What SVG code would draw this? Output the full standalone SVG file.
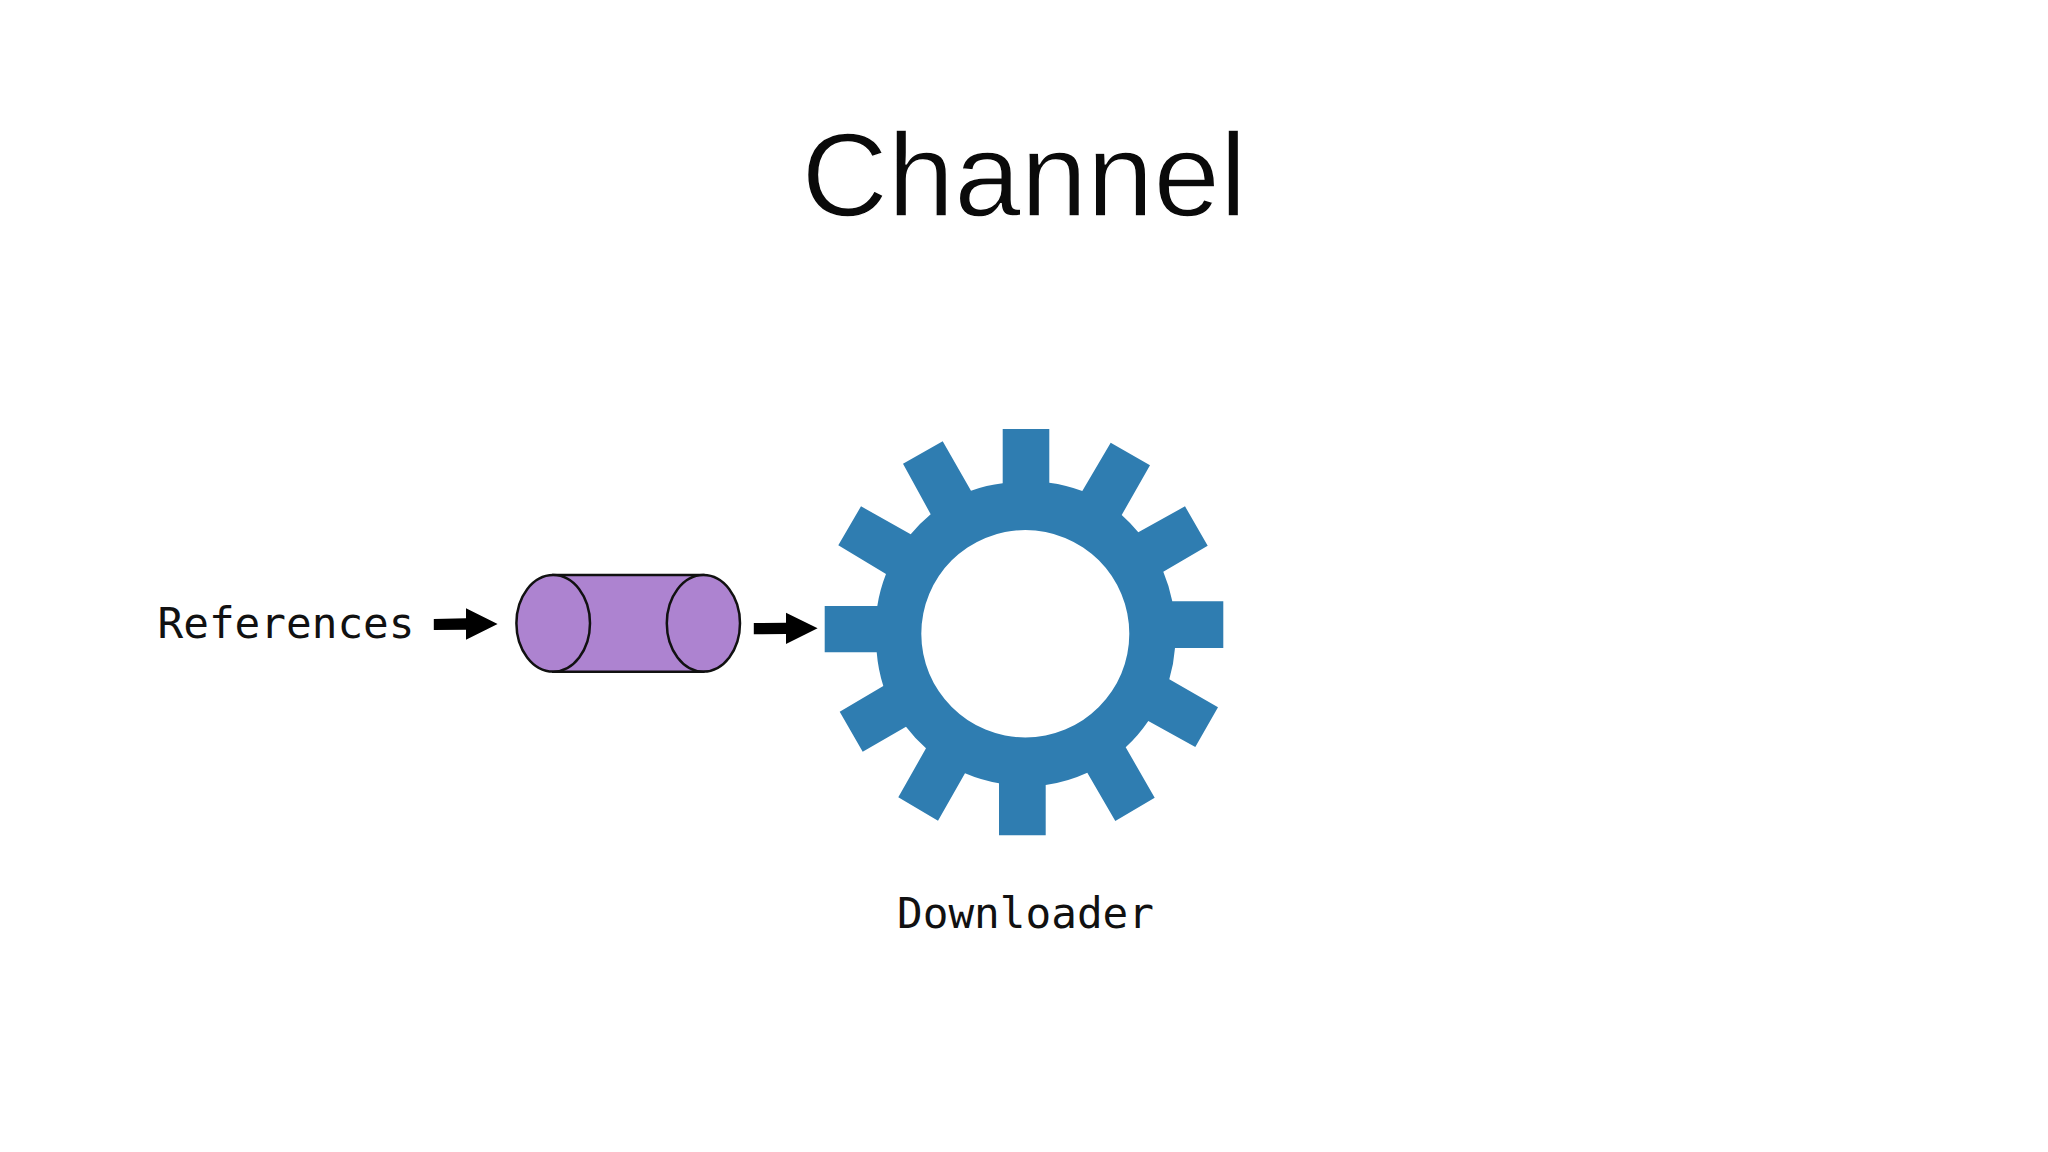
<svg xmlns="http://www.w3.org/2000/svg" width="2048" height="1152" viewBox="0 0 2048 1152">
<style>
.mono{font-family:"DejaVu Sans Mono","Liberation Mono",monospace;font-size:42.7px;fill:#111}
.title{font-family:"Liberation Sans",Arial,sans-serif;font-size:119.5px;fill:#0a0a0a;stroke:#fff;stroke-width:1.4px}
.tank{fill:#ad83d0;stroke:#111;stroke-width:2.5}
.arrow{fill:#000}
</style>
<rect width="2048" height="1152" fill="#fff"/>
<text id="title" class="title" x="1024" y="215.5" text-anchor="middle">Channel</text>
<g id="references"><text class="mono" x="157.5" y="638">References</text></g>
<g id="channel">
<path class="tank" d="M553.2 575H703.4V671.7H553.2Z"/>
<ellipse class="tank" cx="553.2" cy="623.3" rx="36.8" ry="48.3"/>
<ellipse class="tank" cx="703.4" cy="623.3" rx="36.6" ry="48.3"/>
</g>
<g id="downloader">
<path fill="#2f7db1" fill-rule="evenodd" d="M1002.7 483.3V429H1049.3V482.7A151 151 0 0 1 1082.3 491L1110.7 442.7L1150 465.3L1121.7 515A151 151 0 0 1 1138.3 532.3L1185 506.3L1207.7 545.7L1163.3 571.7A151 151 0 0 1 1172.3 601.3H1223.3V648H1175A151 151 0 0 1 1169.3 679.3L1218 707.3L1195.3 747L1148.3 721A151 151 0 0 1 1125.7 747.3L1154.7 797.7L1115.3 821L1087.3 772.7A151 151 0 0 1 1045.7 785V835.3H999V783.3A151 151 0 0 1 965 773.3L938 820.7L898.3 797.3L926 748.3A151 151 0 0 1 906 726.7L862.7 751.7L839.7 711.7L883.3 686A151 151 0 0 1 876.7 652.3H824.7V606H877.3A151 151 0 0 1 886 574L838.3 545.3L861 506.3L910.7 534.3A151 151 0 0 1 930.7 514.3L903 463.7L942.7 441.3L971 490.7A151 151 0 0 1 1002.7 483.3ZM1129.3 633.7A104 103.7 0 1 0 921.3 633.7A104 103.7 0 1 0 1129.3 633.7Z"/>
<text class="mono" x="897" y="928">Downloader</text>
</g>
<g id="connectors">
<path class="arrow" d="M433.8 619L466 618.3V608.3L497.6 624L466 639.7V629.7L433.8 630Z"/>
<path class="arrow" d="M753.8 623L786 622.7V612.7L817.6 628.3L786 644V634L753.8 634.3Z"/>
</g>
</svg>
